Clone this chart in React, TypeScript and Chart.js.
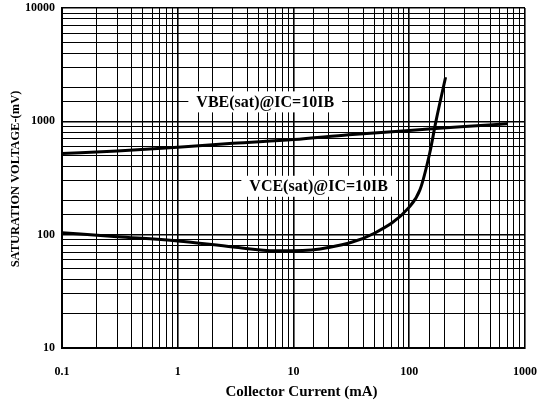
import React, { useEffect, useRef } from "react";
import { Chart, registerables } from "chart.js";

Chart.register(...registerables);

// Collector current (mA)
const vbeCurrent = [0.1, 0.3, 1, 3, 10, 30, 100, 300, 700];
// VBE(sat) (mV)
const vbeVoltage = [520, 548, 590, 640, 690, 760, 830, 900, 950];

const vceCurrent = [0.1, 0.3, 1, 3, 7, 10, 20, 50, 100, 124, 150, 170, 206];
const vceVoltage = [104, 96, 88, 78, 72, 72, 77, 103, 175, 250, 520, 1000, 2450];

const xTickLabels = [0.1, 1, 10, 100, 1000];
const yTickLabels = [10, 100, 1000, 10000];

const seriesLabels = ["VBE(sat)@IC=10IB", "VCE(sat)@IC=10IB"];
// label anchor positions in data units [current mA, voltage mV]
const labelAnchors = [
  [5.7, 1500],
  [16.5, 270],
];

const xTitle = "Collector Current (mA)";
const yTitle = "SATURATION VOLTAGE-(mV)";

const FONT = "'Liberation Serif', 'DejaVu Serif', serif";

function isDecade(v: number, list: number[]) {
  return list.some((t) => Math.abs(t - v) / t < 1e-6);
}

const labelPlugin = {
  id: "seriesLabels",
  afterDatasetsDraw(chart: any) {
    const { ctx, scales, chartArea } = chart;
    ctx.save();
    ctx.font = `bold 16px ${FONT}`;
    ctx.textAlign = "center";
    ctx.textBaseline = "middle";
    seriesLabels.forEach((txt, i) => {
      const px = scales.x.getPixelForValue(labelAnchors[i][0]);
      const py = scales.y.getPixelForValue(labelAnchors[i][1]);
      const w = ctx.measureText(txt).width;
      ctx.fillStyle = "#fff";
      ctx.fillRect(px - w / 2 - 8, py - 10, w + 16, 21);
      ctx.fillStyle = "#000";
      ctx.fillText(txt, px, py + 1);
    });
    // axis titles
    ctx.fillStyle = "#000";
    ctx.font = `bold 15px ${FONT}`;
    ctx.fillText(xTitle, (chartArea.left + chartArea.right) / 2 + 8, 392);
    ctx.save();
    ctx.translate(16, (chartArea.top + chartArea.bottom) / 2 + 1);
    ctx.rotate(-Math.PI / 2);
    ctx.font = `bold 12.5px ${FONT}`;
    ctx.fillText(yTitle, 0, 0);
    ctx.restore();
    ctx.restore();
  },
};

export default function App() {
  const ref = useRef<HTMLCanvasElement | null>(null);
  useEffect(() => {
    document.body.style.margin = "0";
    const chart = new Chart(ref.current!, {
      type: "line",
      data: {
        datasets: [
          {
            label: seriesLabels[0],
            data: vbeCurrent.map((x, i) => ({ x, y: vbeVoltage[i] })),
            borderColor: "#000",
            borderWidth: 3,
            pointRadius: 0,
            cubicInterpolationMode: "monotone",
          },
          {
            label: seriesLabels[1],
            data: vceCurrent.map((x, i) => ({ x, y: vceVoltage[i] })),
            borderColor: "#000",
            borderWidth: 3,
            pointRadius: 0,
            cubicInterpolationMode: "monotone",
          },
        ],
      },
      options: {
        animation: false,
        responsive: false,
        maintainAspectRatio: false,
        layout: { padding: { top: 8, right: 26, left: 0, bottom: 0 } },
        plugins: { legend: { display: false }, tooltip: { enabled: false } },
        scales: {
          x: {
            type: "logarithmic",
            min: 0.1,
            max: 1000,
            border: { color: "#000", width: 2 },
            grid: {
              color: "#000",
              lineWidth: (c: any) => (c.tick && isDecade(c.tick.value, xTickLabels) ? 1.6 : 1),
              drawTicks: false,
            },
            afterFit: (s: any) => {
              s.height = 56;
              s.paddingLeft = 0;
              s.paddingRight = 0;
            },
            ticks: {
              autoSkip: false,
              maxRotation: 0,
              padding: 17,
              color: "#000",
              font: { family: FONT, size: 12, weight: "bold" },
              callback: (v: any) => {
                const n = Number(v);
                return isDecade(n, xTickLabels) ? String(n) : "";
              },
            },
          },
          y: {
            type: "logarithmic",
            min: 10,
            max: 10000,
            border: { color: "#000", width: 2 },
            grid: {
              color: "#000",
              lineWidth: (c: any) => (c.tick && isDecade(c.tick.value, yTickLabels) ? 1.6 : 1),
              drawTicks: false,
            },
            afterFit: (s: any) => {
              s.width = 62;
              s.paddingTop = 0;
              s.paddingBottom = 0;
            },
            ticks: {
              autoSkip: false,
              padding: 7,
              color: "#000",
              font: { family: FONT, size: 12, weight: "bold" },
              callback: (v: any) => {
                const n = Number(v);
                return isDecade(n, yTickLabels) ? String(n) : "";
              },
            },
          },
        },
      },
      plugins: [labelPlugin],
    } as any);
    return () => chart.destroy();
  }, []);
  return (
    <div style={{ position: "fixed", left: 0, top: 0, width: 551, height: 404, background: "#fff" }}>
      <canvas ref={ref} width={551} height={404} style={{ width: 551, height: 404 }} />
    </div>
  );
}
